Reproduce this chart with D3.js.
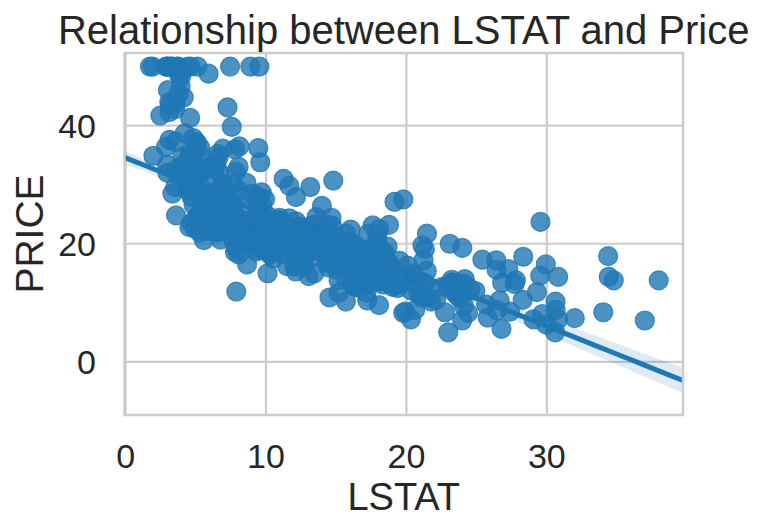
<!DOCTYPE html>
<html lang="en">
<head>
  <meta charset="utf-8">
  <script src="https://d3js.org/d3.v7.min.js"></script>
  <style>
    body { margin: 0; background: #fff; }
    text { font-family: "Liberation Sans", Arial, sans-serif; fill: #262626; }
  </style>
</head>
<body>
<script>

// scatter of LSTAT vs PRICE with a fitted line (seaborn regplot look)

const lstat = [4.98,9.14,4.03,2.94,5.33,5.21,12.43,19.15,29.93,17.10,20.45,13.27,15.71,8.26,10.26,8.47,6.58,14.67,11.69,11.28,
  21.02,13.83,18.72,19.88,16.30,16.51,14.81,17.28,12.80,11.98,22.60,13.04,27.71,18.35,20.34,9.68,11.41,8.77,10.13,4.32,
  1.98,4.84,5.81,7.44,9.55,10.21,14.15,18.80,30.81,16.20,13.45,9.43,5.28,8.43,14.80,4.81,5.77,3.95,6.86,9.22,
  13.15,14.44,6.73,9.50,8.05,4.67,10.24,8.10,13.09,8.79,6.72,9.88,5.52,7.54,6.78,8.94,11.97,10.27,12.34,9.10,
  5.29,7.22,6.72,7.51,9.62,6.53,12.86,8.44,5.50,5.70,8.81,8.20,8.16,6.21,10.59,6.65,11.34,4.21,3.57,6.19,
  9.42,7.67,10.63,13.44,12.33,16.47,18.66,14.09,12.27,15.55,13.00,10.16,16.21,17.09,10.45,15.76,12.04,10.30,15.37,13.61,
  14.37,14.27,17.93,25.41,17.58,14.81,27.26,17.19,15.39,18.34,12.60,12.26,11.12,15.03,17.31,16.96,16.90,14.59,21.32,18.46,
  24.16,34.41,26.82,26.42,29.29,27.80,16.65,29.53,28.32,21.45,14.10,13.28,12.12,15.79,15.12,15.02,16.14,4.59,6.43,7.39,
  5.50,1.73,1.92,3.32,11.64,9.81,3.70,12.14,11.10,11.32,14.43,12.03,14.69,9.04,9.64,5.33,10.11,6.29,6.92,5.04,
  7.56,9.45,4.82,5.68,13.98,13.15,4.45,6.68,4.56,5.39,5.10,4.69,2.87,5.03,4.38,2.97,4.08,8.61,6.62,4.56,
  4.45,7.43,3.11,3.81,2.88,10.87,10.97,18.06,14.66,23.09,17.27,23.98,16.03,9.38,29.55,9.47,13.51,9.69,17.92,10.50,
  9.71,21.46,9.93,7.60,4.14,4.63,3.13,6.36,3.92,3.76,11.65,5.25,2.47,3.95,8.05,10.88,9.54,4.73,6.36,7.37,
  11.38,12.40,11.22,5.19,12.50,18.46,9.16,10.15,9.52,6.56,5.90,3.59,3.53,3.54,6.57,9.25,3.11,5.12,7.79,6.90,
  9.59,7.26,5.91,11.25,8.10,10.45,14.79,7.44,3.16,13.65,13.00,6.59,7.73,6.58,3.53,2.98,6.05,4.16,7.19,4.85,
  3.76,4.59,3.01,3.16,7.85,8.23,12.93,7.14,7.60,9.51,3.33,3.56,4.70,8.58,10.40,6.27,7.39,15.84,4.97,4.74,
  6.07,9.50,8.67,4.86,6.93,8.93,6.47,7.53,4.54,9.97,12.64,5.98,11.72,7.90,9.28,11.50,18.33,15.94,10.36,12.73,
  7.20,6.87,7.70,11.74,6.12,5.08,6.15,12.79,9.97,7.34,9.09,12.43,7.83,5.68,6.75,8.01,9.80,10.56,8.51,9.74,
  9.29,5.49,8.65,7.18,4.61,10.53,12.67,6.36,5.99,5.89,5.98,5.49,7.79,4.50,8.05,5.57,17.60,13.27,11.48,12.67,
  7.79,14.19,10.19,14.64,5.29,7.12,14.00,13.33,3.26,3.73,2.96,9.53,8.88,34.77,37.97,13.44,23.24,21.24,23.69,21.78,
  17.21,21.08,23.60,24.56,30.63,30.81,28.28,31.99,30.62,20.85,17.11,18.76,25.68,15.17,16.35,17.12,19.37,19.92,30.59,29.97,
  26.77,20.32,20.31,19.77,27.38,22.98,23.34,12.13,26.40,19.78,10.11,21.22,34.37,20.08,36.98,29.05,25.79,26.64,20.62,22.74,
  15.02,15.70,14.10,23.29,17.16,24.39,15.69,14.52,21.52,24.08,17.64,19.69,12.03,16.22,15.17,23.27,18.05,26.45,34.02,22.88,
  22.11,19.52,16.59,18.85,23.79,23.98,17.79,16.44,18.13,19.31,17.44,17.73,17.27,16.74,18.71,18.13,19.01,16.94,16.23,14.70,
  16.42,14.65,13.99,10.29,13.22,14.13,17.15,21.32,18.13,14.76,16.29,12.87,14.36,11.66,18.14,24.10,18.68,24.91,18.03,13.11,
  10.74,7.74,7.01,10.42,13.34,10.58,14.98,11.45,18.06,23.97,29.68,18.07,13.35,12.01,13.59,17.60,21.14,14.10,12.92,15.10,
  14.33,9.67,9.08,5.64,6.48,7.88];

const price = [24.0,21.6,34.7,33.4,36.2,28.7,22.9,27.1,16.5,18.9,15.0,18.9,21.7,20.4,18.2,19.9,23.1,17.5,20.2,18.2,
  13.6,19.6,15.2,14.5,15.6,13.9,16.6,14.8,18.4,21.0,12.7,14.5,13.2,13.1,13.5,18.9,20.0,21.0,24.7,30.8,
  34.9,26.6,25.3,24.7,21.2,19.3,20.0,16.6,14.4,19.4,19.7,20.5,25.0,23.4,18.9,35.4,24.7,31.6,23.3,19.6,
  18.7,16.0,22.2,25.0,33.0,23.5,19.4,22.0,17.4,20.9,24.2,21.7,22.8,23.4,24.1,21.4,20.0,20.8,21.2,20.3,
  28.0,23.9,24.8,22.9,23.9,26.6,22.5,22.2,23.6,28.7,22.6,22.0,22.9,25.0,20.6,28.4,21.4,38.7,43.8,33.2,
  27.5,26.5,18.6,19.3,20.1,19.5,19.5,20.4,19.8,19.4,21.7,22.8,18.8,18.7,18.5,18.3,21.2,19.2,20.4,19.3,
  22.0,20.3,20.5,17.3,18.8,21.4,15.7,16.2,18.0,14.3,19.2,19.6,23.0,18.4,15.6,18.1,17.4,17.1,13.3,17.8,
  14.0,14.4,13.4,15.6,11.8,13.8,15.6,14.6,17.8,15.4,21.5,19.6,15.3,19.4,17.0,15.6,13.1,41.3,24.3,23.3,
  27.0,50.0,50.0,50.0,22.7,25.0,50.0,23.8,23.8,22.3,17.4,19.1,23.1,23.6,22.6,29.4,23.2,24.6,29.9,37.2,
  39.8,36.2,37.9,32.5,26.4,29.6,50.0,32.0,29.8,34.9,37.0,30.5,36.4,31.1,29.1,50.0,33.3,30.3,34.6,34.9,
  32.9,24.1,42.3,48.5,50.0,22.6,24.4,22.5,24.4,20.0,21.7,19.3,22.4,28.1,23.7,25.0,23.3,28.7,21.5,23.0,
  26.7,21.7,27.5,30.1,44.8,50.0,37.6,31.6,46.7,31.5,24.3,31.7,41.7,48.3,29.0,24.0,25.1,31.5,23.7,23.3,
  22.0,20.1,22.2,23.7,17.6,18.5,24.3,20.5,24.5,26.2,24.4,24.8,29.6,42.8,21.9,20.9,44.0,50.0,36.0,30.1,
  33.8,43.1,48.8,31.0,36.5,22.8,30.7,50.0,43.5,20.7,21.1,25.2,24.4,35.2,32.4,32.0,33.2,33.1,29.1,35.1,
  45.4,35.4,46.0,50.0,32.2,22.0,20.1,23.2,22.3,24.8,28.5,37.3,27.9,23.9,21.7,28.6,27.1,20.3,22.5,29.0,
  24.8,22.0,26.4,33.1,36.1,28.4,33.4,28.2,22.8,20.3,16.1,22.1,19.4,21.6,23.8,16.2,17.8,19.8,23.1,21.0,
  23.8,23.1,20.4,18.5,25.0,24.6,23.0,22.2,19.3,22.6,19.8,17.1,19.4,22.2,20.7,21.1,19.5,18.5,20.6,19.0,
  18.7,32.7,16.5,23.9,31.2,17.5,17.2,23.1,24.5,26.6,22.9,24.1,18.6,30.1,18.2,20.6,17.8,21.7,22.7,22.6,
  25.0,19.9,20.8,16.8,21.9,27.5,21.9,23.1,50.0,50.0,50.0,50.0,50.0,13.8,13.8,15.0,13.9,13.3,13.1,10.2,
  10.4,10.9,11.3,12.3,8.8,7.2,10.5,7.4,10.2,11.5,15.1,23.2,9.7,13.8,12.7,13.1,12.5,8.5,5.0,6.3,
  5.6,7.2,12.1,8.3,8.5,5.0,11.9,27.9,17.2,27.5,15.0,17.2,17.9,16.3,7.0,7.2,7.5,10.4,8.8,8.4,
  16.7,14.2,20.8,13.4,11.7,8.3,10.2,10.9,11.0,9.5,14.5,14.1,16.1,14.3,11.7,13.4,9.6,8.7,8.4,12.8,
  10.5,17.1,18.4,15.4,10.8,11.8,14.9,12.6,14.1,13.0,13.4,15.2,16.1,17.8,14.9,14.1,12.7,13.5,14.9,20.0,
  16.4,17.7,19.5,20.2,21.4,19.9,19.0,19.1,19.1,20.1,19.9,19.6,23.2,29.8,13.8,13.3,16.7,12.0,14.6,21.4,
  23.0,23.7,25.0,21.8,20.6,21.2,19.1,20.6,15.2,7.0,8.1,13.6,20.1,21.8,24.5,23.1,19.7,18.3,21.2,17.5,
  16.8,22.4,20.6,23.9,22.0,11.9];

const xTicks = [0, 10, 20, 30];
const yTicks = [0, 20, 40];
const titleText = "Relationship between LSTAT and Price";
const xLabel = "LSTAT";
const yLabel = "PRICE";

const width = 758, height = 518;
const pLeft = 124.5, pRight = 683, pTop = 53, pBottom = 415;
const blue = "#1f77b4";

const svg = d3.select("body").append("svg")
  .attr("width", width)
  .attr("height", height);

const x = d3.scaleLinear().domain([-0.08, 39.7]).range([pLeft, pRight]);
const y = d3.scaleLinear().domain([-9, 52.3]).range([pBottom, pTop]);

// grid
svg.append("g").selectAll("line").data(xTicks).join("line")
  .attr("x1", d => x(d)).attr("x2", d => x(d))
  .attr("y1", pTop).attr("y2", pBottom)
  .attr("stroke", "#cccccc").attr("stroke-width", 2.2);
svg.append("g").selectAll("line").data(yTicks).join("line")
  .attr("x1", pLeft).attr("x2", pRight)
  .attr("y1", d => y(d)).attr("y2", d => y(d))
  .attr("stroke", "#cccccc").attr("stroke-width", 2.2);

svg.append("clipPath").attr("id", "clip")
  .append("rect").attr("x", pLeft).attr("y", pTop)
  .attr("width", pRight - pLeft).attr("height", pBottom - pTop);

const plot = svg.append("g").attr("clip-path", "url(#clip)");

// points
const pts = lstat.map((v, i) => ({x: v, y: price[i]}));
plot.append("g").selectAll("circle").data(pts).join("circle")
  .attr("cx", d => x(d.x))
  .attr("cy", d => y(d.y))
  .attr("r", 9.5)
  .attr("fill", blue).attr("fill-opacity", 0.8)
  .attr("stroke", blue).attr("stroke-opacity", 0.8).attr("stroke-width", 1.2);

// least squares fit + 95% band
const n = pts.length;
const mx = d3.mean(pts, d => d.x), my = d3.mean(pts, d => d.y);
const sxx = d3.sum(pts, d => (d.x - mx) ** 2);
const slope = d3.sum(pts, d => (d.x - mx) * (d.y - my)) / sxx;
const icept = my - slope * mx;
const s = Math.sqrt(d3.sum(pts, d => (d.y - icept - slope * d.x) ** 2) / (n - 2));
const xs = d3.range(0, 101).map(i => x.domain()[0] + (x.domain()[1] - x.domain()[0]) * i / 100);
const fit = xs.map(g => {
  const yh = icept + slope * g;
  const e = 1.965 * s * Math.sqrt(1 / n + (g - mx) ** 2 / sxx);
  return {x: g, y: yh, lo: yh - e, hi: yh + e};
});

plot.append("path").datum(fit)
  .attr("fill", blue).attr("fill-opacity", 0.15)
  .attr("d", d3.area().x(d => x(d.x)).y0(d => y(d.lo)).y1(d => y(d.hi)));
plot.append("path").datum(fit)
  .attr("fill", "none").attr("stroke", blue).attr("stroke-width", 5)
  .attr("d", d3.line().x(d => x(d.x)).y(d => y(d.y)));

// spines
svg.append("rect")
  .attr("x", pLeft).attr("y", pTop)
  .attr("width", pRight - pLeft).attr("height", pBottom - pTop)
  .attr("fill", "none").attr("stroke", "#cccccc").attr("stroke-width", 2.5);

// tick labels
svg.append("g").selectAll("text").data(xTicks).join("text")
  .attr("x", d => x(d)).attr("y", 467.5)
  .attr("text-anchor", "middle").attr("font-size", 34)
  .text(d => d);
svg.append("g").selectAll("text").data(yTicks).join("text")
  .attr("x", 96).attr("y", d => y(d) + 12)
  .attr("text-anchor", "end").attr("font-size", 34)
  .text(d => d);

// labels + title
svg.append("text")
  .attr("x", (pLeft + pRight) / 2).attr("y", 509.5)
  .attr("text-anchor", "middle").attr("font-size", 38)
  .text(xLabel);
svg.append("text")
  .attr("transform", `translate(43,${(pTop + pBottom) / 2}) rotate(-90)`)
  .attr("text-anchor", "middle").attr("font-size", 39)
  .text(yLabel);
svg.append("text")
  .attr("x", (pLeft + pRight) / 2).attr("y", 44)
  .attr("text-anchor", "middle").attr("font-size", 40)
  .text(titleText);

</script>
</body>
</html>
